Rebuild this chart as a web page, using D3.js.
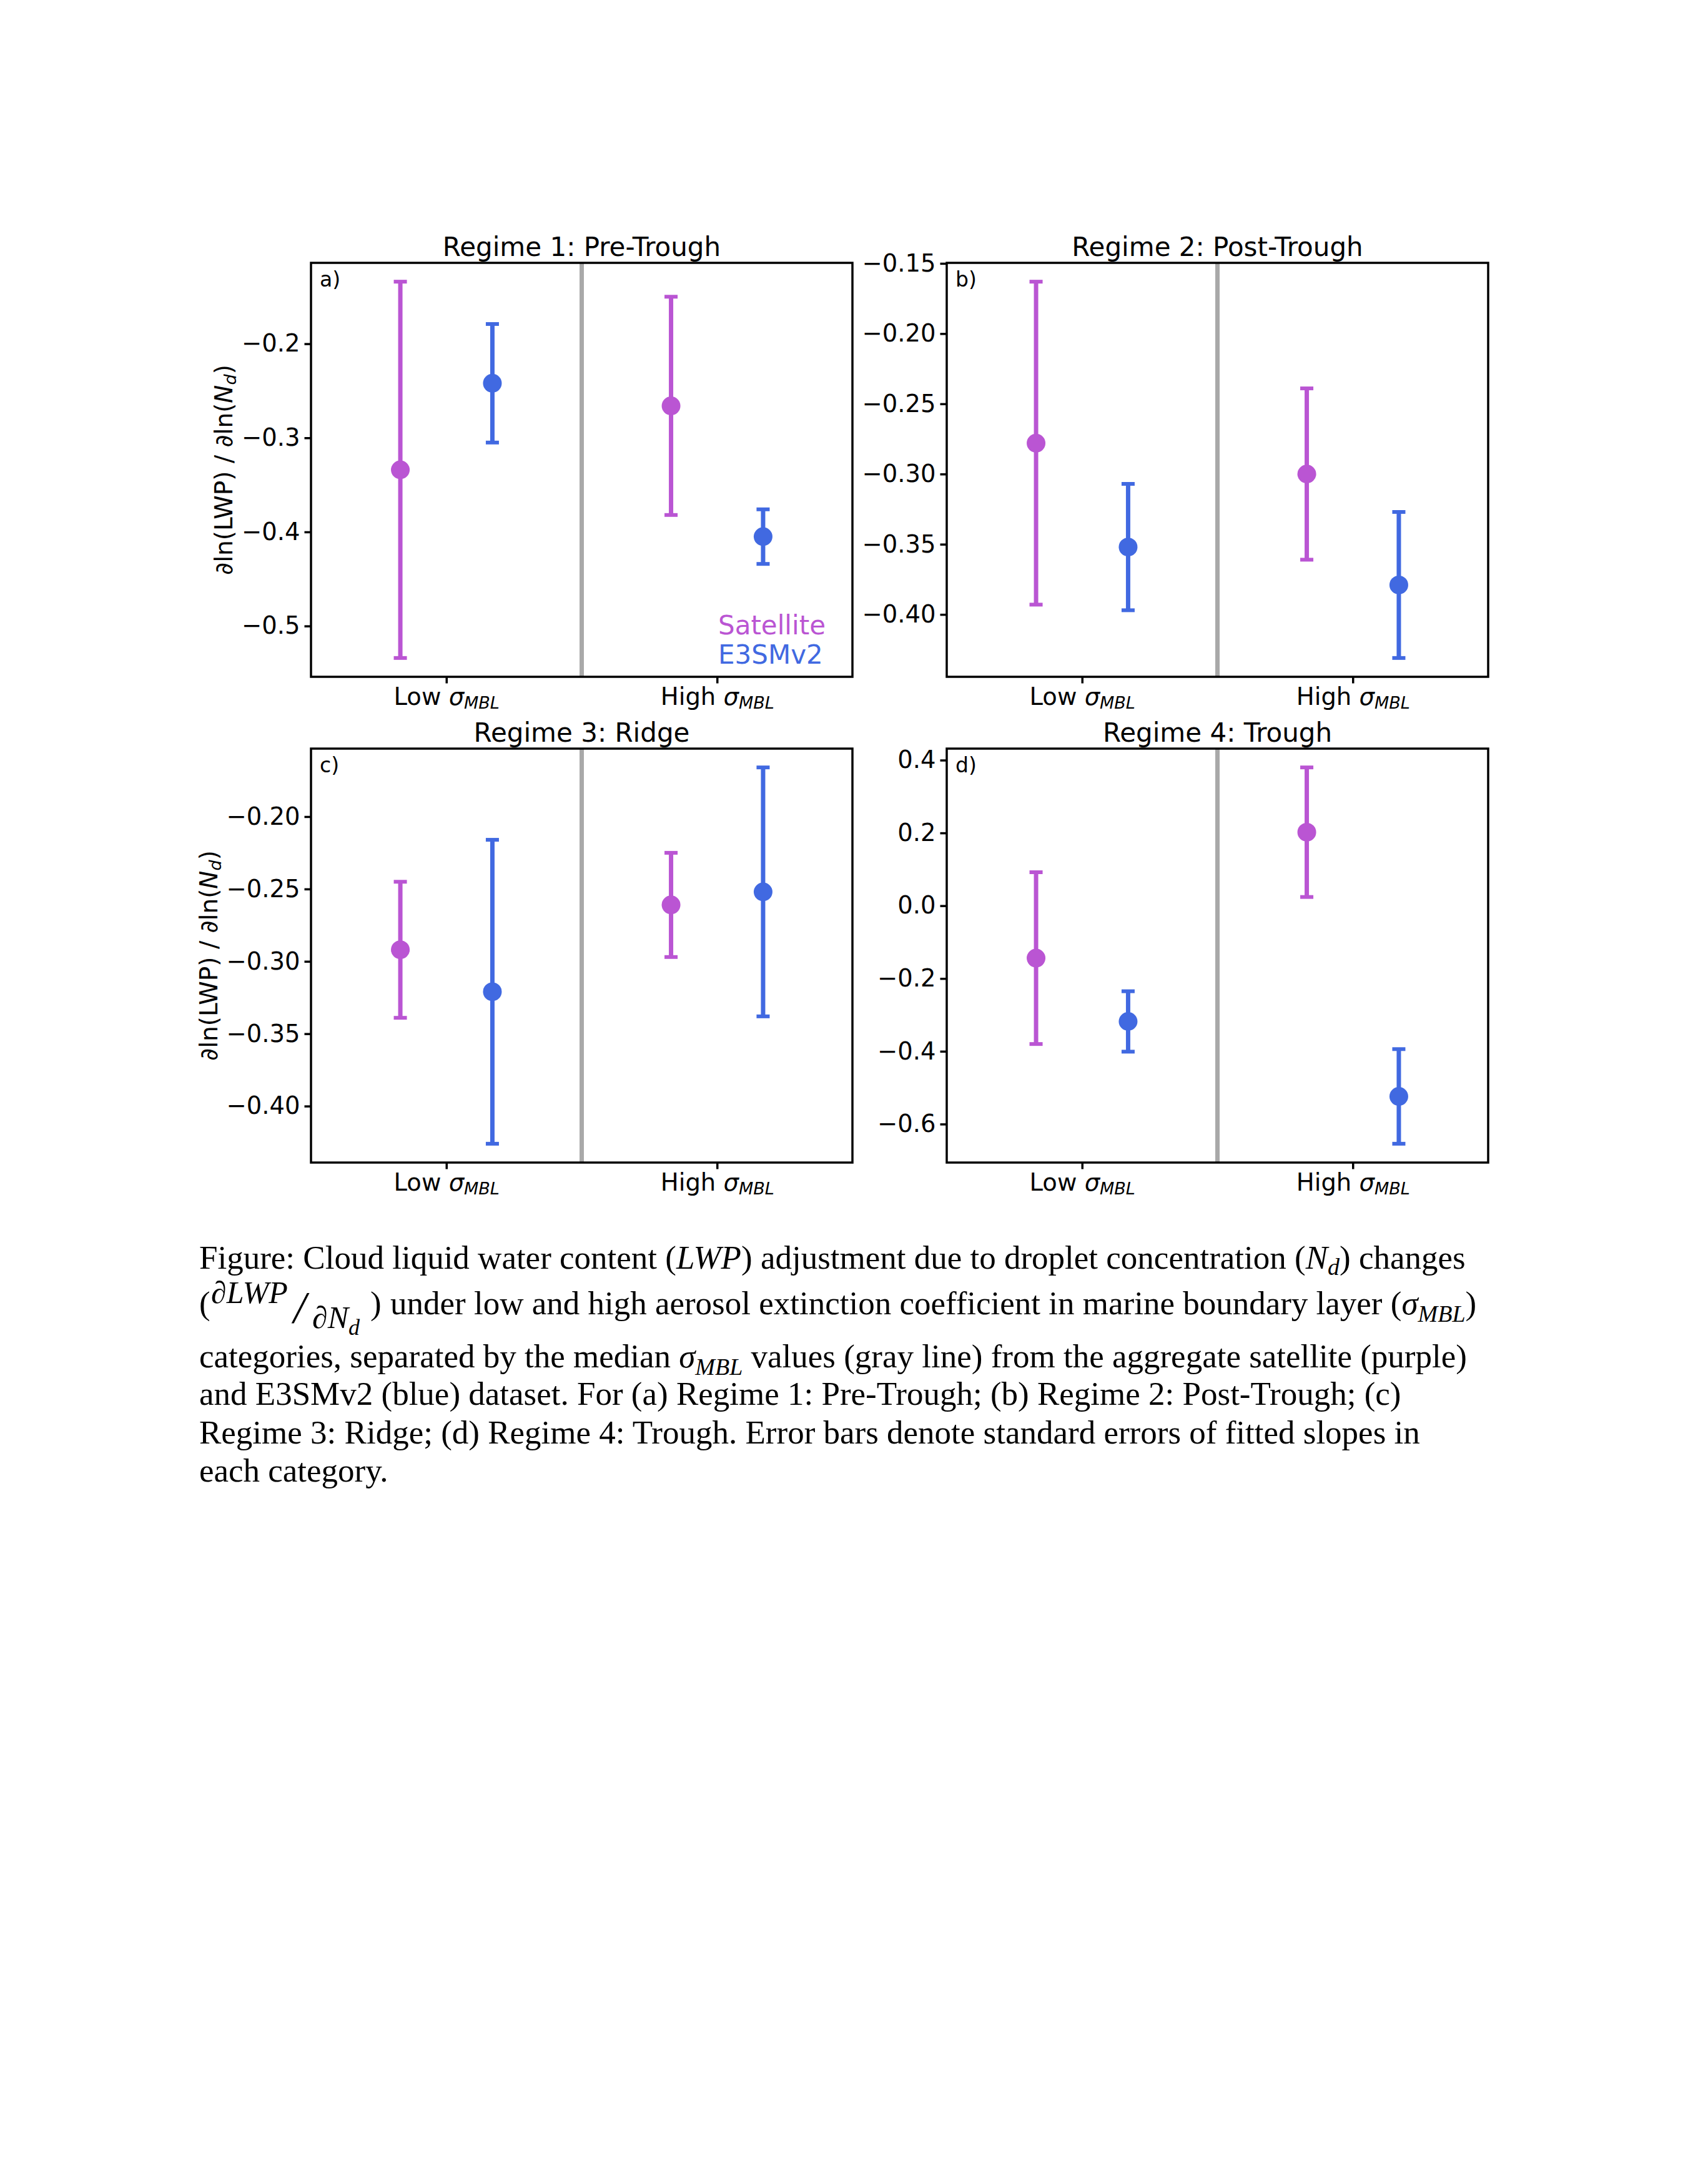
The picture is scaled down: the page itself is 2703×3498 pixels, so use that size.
<!DOCTYPE html>
<html>
<head>
<meta charset="utf-8">
<script src="https://cdn.jsdelivr.net/npm/d3@7"></script>
<style>
    body { margin: 0; background: #fff; }
    svg { display: block; background: #fff; }
    .axis text { font-family: 'DejaVu Sans', sans-serif; font-size: 38.5px; fill: #000; }
    .axis line { stroke: #000; stroke-width: 3.5; }
    .axis path { display: none; }
    .title { font-family: 'DejaVu Sans', sans-serif; font-size: 42px; text-anchor: middle; }
    .yTitle { font-family: 'DejaVu Sans', sans-serif; font-size: 39px; text-anchor: middle; }
    .letter { font-family: 'DejaVu Sans', sans-serif; font-size: 33px; }
    .legend { font-family: 'DejaVu Sans', sans-serif; font-size: 42px; }
    .caption { font-family: 'Liberation Serif', 'Times New Roman', serif; font-size: 53px; fill: #000; }
    .math { font-style: italic; }
</style>
</head>
<body>
<script>
'use strict';
(function () {

    // categories on the x axis, one panel per regime
    const categories = ['Low', 'High'];
    const regimeTitles = ['Regime 1: Pre-Trough', 'Regime 2: Post-Trough', 'Regime 3: Ridge', 'Regime 4: Trough'];
    const panelLetters = ['a)', 'b)', 'c)', 'd)'];
    const seriesNames = ['Satellite', 'E3SMv2'];

    // fitted slopes and their standard errors, [regime][category]
    const satelliteSlope = [[-0.334, -0.266], [-0.278, -0.300], [-0.292, -0.261], [-0.144, 0.202]];
    const satelliteError = [[0.200, 0.116], [0.115, 0.061], [0.047, 0.036], [0.236, 0.178]];
    const e3smSlope = [[-0.242, -0.405], [-0.352, -0.379], [-0.321, -0.252], [-0.318, -0.524]];
    const e3smError = [[0.063, 0.029], [0.045, 0.052], [0.105, 0.086], [0.083, 0.130]];

    // y tick values per regime
    const yTicks = [
        [-0.5, -0.4, -0.3, -0.2],
        [-0.40, -0.35, -0.30, -0.25, -0.20, -0.15],
        [-0.40, -0.35, -0.30, -0.25, -0.20],
        [-0.6, -0.4, -0.2, 0.0, 0.2, 0.4]
    ];
    const yTickDecimals = [1, 2, 2, 1];


    function getPlotArea() {
        return {
            svg: { width: 2703, height: 3498 },
            panel: { width: 867, height: 663 },
            origins: [[498, 421], [1516, 421], [498, 1199], [1516, 1199]],
            offsets: [-0.17, 0.17],   // series shift around each category
            colors: ['#BA55D3', '#4169E1']
        };
    }


    function getSeries(plot) {
        return [
            { name: seriesNames[0], slopes: satelliteSlope, errors: satelliteError, color: plot.colors[0], offset: plot.offsets[0] },
            { name: seriesNames[1], slopes: e3smSlope, errors: e3smError, color: plot.colors[1], offset: plot.offsets[1] }
        ];
    }


    /**
     * y domain follows the error bar extent with a 5% margin, like matplotlib autoscale.
     */
    function makeScales(series, p, plot) {
        const ends = [];
        series.forEach(s => s.slopes[p].forEach((v, i) => {
            ends.push(v - s.errors[p][i], v + s.errors[p][i]);
        }));
        const lo = d3.min(ends), hi = d3.max(ends), pad = (hi - lo) * 0.05;
        return {
            x: d3.scaleLinear().domain([-0.5, categories.length - 0.5]).range([0, plot.panel.width]),
            y: d3.scaleLinear().domain([lo - pad, hi + pad]).range([plot.panel.height, 0])
        };
    }


    function appendXAxis(g, scales, plot) {
        const axis = d3.axisBottom(scales.x)
            .tickValues(categories.map((c, i) => i))
            .tickSize(10.5).tickPadding(7.5);
        const ax = g.append('g')
            .attr('class', 'axis xAxis')
            .attr('transform', 'translate(0,' + plot.panel.height + ')')
            .call(axis);
        ax.selectAll('.tick text').each(function (d) {
            const t = d3.select(this).text('');
            t.append('tspan').text(categories[d] + ' ');
            t.append('tspan').attr('class', 'math').text('σ');
            t.append('tspan').attr('class', 'math').attr('font-size', '27px').attr('dy', 6).text('MBL');
        });
    }


    function appendYAxis(g, scales, p) {
        const axis = d3.axisLeft(scales.y)
            .tickValues(yTicks[p])
            .tickFormat(d3.format('.' + yTickDecimals[p] + 'f'))
            .tickSize(10.5).tickPadding(7);
        return g.append('g')
            .attr('class', 'axis yAxis')
            .call(axis);
    }


    /**
     * Rotated y title, placed just left of the tick labels.
     */
    function appendYAxisTitle(g, yAxisGroup, plot) {
        const box = yAxisGroup.node().getBBox();
        const t = g.append('text')
            .attr('class', 'yTitle')
            .attr('transform', 'translate(' + (box.x - 15) + ',' + (plot.panel.height / 2) + ') rotate(-90)');
        t.append('tspan').text('∂ln(LWP) / ∂ln(');
        t.append('tspan').attr('class', 'math').text('N');
        t.append('tspan').attr('class', 'math').attr('font-size', '27px').attr('dy', 6).text('d');
        t.append('tspan').attr('dy', -6).text(')');
    }


    function appendDivider(g, scales, plot) {
        g.append('line')
            .attr('x1', scales.x(0.5)).attr('x2', scales.x(0.5))
            .attr('y1', 0).attr('y2', plot.panel.height)
            .attr('stroke', '#A9A9A9').attr('stroke-width', 7);
    }


    /**
     * Error bars with caps and a filled circle at the slope value.
     */
    function appendErrorBars(g, series, p, scales) {
        series.forEach(s => {
            const rows = categories.map((c, i) => ({ x: i + s.offset, v: s.slopes[p][i], e: s.errors[p][i] }));
            const grp = g.append('g').attr('class', 'errorbar');
            grp.selectAll('line.stem').data(rows).enter().append('line')
                .attr('class', 'stem')
                .attr('x1', d => scales.x(d.x)).attr('x2', d => scales.x(d.x))
                .attr('y1', d => scales.y(d.v - d.e)).attr('y2', d => scales.y(d.v + d.e))
                .attr('stroke', s.color).attr('stroke-width', 7);
            [-1, 1].forEach(sign => {
                grp.selectAll('line.cap' + (sign + 1)).data(rows).enter().append('line')
                    .attr('class', 'cap' + (sign + 1))
                    .attr('x1', d => scales.x(d.x) - 10.5).attr('x2', d => scales.x(d.x) + 10.5)
                    .attr('y1', d => scales.y(d.v + sign * d.e)).attr('y2', d => scales.y(d.v + sign * d.e))
                    .attr('stroke', s.color).attr('stroke-width', 6);
            });
            grp.selectAll('circle').data(rows).enter().append('circle')
                .attr('cx', d => scales.x(d.x)).attr('cy', d => scales.y(d.v))
                .attr('r', 15).attr('fill', s.color);
        });
    }


    function appendFrame(g, plot) {
        g.append('rect')
            .attr('width', plot.panel.width).attr('height', plot.panel.height)
            .attr('fill', 'none').attr('stroke', '#000').attr('stroke-width', 3.5);
    }


    function appendTitles(g, p, plot) {
        g.append('text')
            .attr('class', 'title')
            .attr('x', plot.panel.width / 2).attr('y', -11)
            .text(regimeTitles[p]);
        g.append('text')
            .attr('class', 'letter')
            .attr('x', 14).attr('y', 38)
            .text(panelLetters[p]);
    }


    function appendLegend(g, series) {
        g.selectAll('text.legend').data(series).enter().append('text')
            .attr('class', 'legend')
            .attr('x', 652)
            .attr('y', (d, i) => 595 + i * 47)
            .attr('fill', d => d.color)
            .text(d => d.name);
    }


    /**
     * Figure caption under the panels, in a serif face like the paper.
     */
    function appendCaption(svg) {
        const cap = svg.append('g').attr('class', 'caption');
        const line = (x, y, parts, size) => {
            const t = cap.append('text').attr('x', x).attr('y', y);
            if (size) t.attr('font-size', size + 'px');
            parts.forEach(pt => {
                const s = t.append('tspan').text(pt[0]);
                if (pt[1]) s.attr('class', 'math');
                if (pt[2]) s.attr('font-size', pt[2] + 'px');
                if (pt[3]) s.attr('dy', pt[3]);
            });
        };
        line(319, 2032, [
            ['Figure: Cloud liquid water content ('], ['LWP', 1], [') adjustment due to droplet concentration ('],
            ['N', 1], ['d', 1, 38, 10], [')', 0, 0, -10], [' changes']
        ]);
        line(319, 2105, [['(']]);
        line(338, 2087, [['∂LWP', 1]], 50);
        line(470, 2118, [['/', 1]], 72);
        line(500, 2127, [['∂N', 1], ['d', 1, 36, 11]], 50);
        line(593, 2105, [[')']]);
        line(625, 2105, [
            ['under low and high aerosol extinction coefficient in marine boundary layer ('],
            ['σ', 1], ['MBL', 1, 38, 12], [')', 0, 0, -12]
        ]);
        line(319, 2190, [
            ['categories, separated by the median '], ['σ', 1], ['MBL', 1, 38, 12],
            [' values (gray line) from the aggregate satellite (purple)', 0, 0, -12]
        ]);
        line(319, 2250, [['and E3SMv2 (blue) dataset. For (a) Regime 1: Pre-Trough; (b) Regime 2: Post-Trough; (c)']]);
        line(319, 2312, [['Regime 3: Ridge; (d) Regime 4: Trough. Error bars denote standard errors of fitted slopes in']]);
        line(319, 2373, [['each category.']]);
    }


    function draw() {
        const plot = getPlotArea();
        const series = getSeries(plot);
        const svg = d3.select('body').append('svg')
            .attr('width', plot.svg.width)
            .attr('height', plot.svg.height);

        regimeTitles.forEach((title, p) => {
            const g = svg.append('g')
                .attr('transform', 'translate(' + plot.origins[p][0] + ',' + plot.origins[p][1] + ')');
            const scales = makeScales(series, p, plot);
            appendDivider(g, scales, plot);
            appendErrorBars(g, series, p, scales);
            appendFrame(g, plot);
            appendXAxis(g, scales, plot);
            const yAxisGroup = appendYAxis(g, scales, p);
            if (p % 2 === 0) appendYAxisTitle(g, yAxisGroup, plot);
            appendTitles(g, p, plot);
            if (p === 0) appendLegend(g, series);
        });

        appendCaption(svg);
    }


    window.onload = draw;

})();
</script>
</body>
</html>
